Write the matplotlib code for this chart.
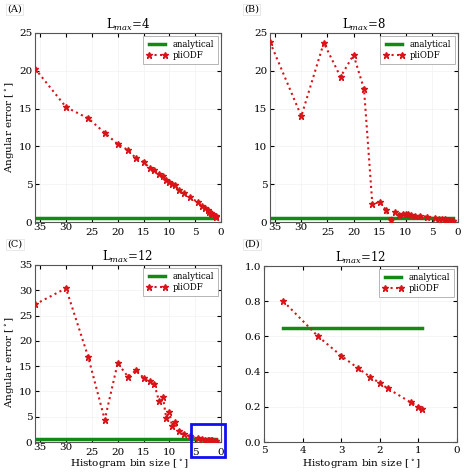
import matplotlib
matplotlib.use("Agg")
import matplotlib.pyplot as plt
from matplotlib.patches import Rectangle
import numpy as np

# ---------------- data ----------------
bin_size = [36, 30, 25.7, 22.5, 20, 18, 16.4, 15, 13.8, 12.9, 12, 11.25, 10.6, 10,
            9.5, 9, 8.2, 7.2, 6, 4.5, 3.6, 3.0, 2.57, 2.25, 2.0, 1.8, 1.2, 1.0, 0.9]

err_lmax4 = [20.3, 15.2, 13.7, 11.8, 10.3, 9.5, 8.4, 8.0, 7.1, 6.9, 6.3, 6.1, 5.5, 5.3,
             5.0, 4.9, 4.2, 3.85, 3.3, 2.6, 2.1, 1.8, 1.55, 1.35, 1.2, 1.1, 0.85, 0.75, 0.7]

err_lmax8 = [23.8, 14.0, 23.7, 19.2, 22.1, 17.6, 2.35, 2.65, 1.6, 0.2, 1.35, 0.9, 1.1, 1.0,
             1.1, 0.95, 0.85, 0.8, 0.7, 0.55, 0.45, 0.4, 0.35, 0.3, 0.27, 0.22, 0.18, 0.15, 0.13]

err_lmax12 = [27.2, 30.4, 16.8, 4.4, 15.6, 12.9, 14.2, 12.7, 12.0, 11.4, 8.1, 8.9, 4.75, 6.0,
              3.25, 3.9, 2.2, 1.65, 1.1, 0.80, 0.60, 0.49, 0.42, 0.37, 0.335, 0.305, 0.225, 0.20, 0.19]

analytical = {"A": 0.47, "B": 0.53, "C": 0.645, "D": 0.645}
lmax_vals = {"A": 4, "B": 8, "C": 12, "D": 12}
panel_labels = ["(A)", "(B)", "(C)", "(D)"]
legend_labels = ["analytical", "pliODF"]

xticks_main = [35, 30, 25, 20, 15, 10, 5, 0]
zoom_box_x = (5.9, -0.8)
zoom_box_y = (-3.0, 3.5)

# ---------------- style ----------------
plt.rcParams.update({
    "font.family": ["DejaVu Serif"],
    "mathtext.fontset": "dejavuserif",
    "xtick.direction": "in",
    "ytick.direction": "in",
    "xtick.top": True,
    "ytick.right": True,
    "xtick.major.size": 3,
    "ytick.major.size": 3,
    "xtick.labelsize": 7.5,
    "ytick.labelsize": 7.5,
    "axes.linewidth": 0.8,
    "axes.edgecolor": "#555555",
})

fig = plt.figure(figsize=(4.74, 4.73), dpi=100)
fig.patch.set_facecolor("white")

W, H = 474, 473
def box(l, r, t, b):
    return [l / W, 1 - b / H, (r - l) / W, (b - t) / H]

axA = fig.add_axes(box(35, 221, 33, 222))
axB = fig.add_axes(box(270, 458, 33, 222))
axC = fig.add_axes(box(35, 221, 265, 442))
axD = fig.add_axes(box(264, 457, 266, 442))

green = "#138a13"
red = "#d81418"

def draw(ax, x, y, ana):
    ax.plot([x[0], x[-1]], [ana, ana], color=green, lw=2.5, label=legend_labels[0], zorder=2)
    ax.plot(x, y, color=red, ls=":", lw=1.5, marker="*", ms=5, mec=red, mfc=red,
            label=legend_labels[1], zorder=3)
    ax.grid(True, color="#f2f2f2", lw=0.5)
    ax.set_axisbelow(True)
    leg = ax.legend(loc="upper right", fontsize=6.2, handlelength=2.4, borderpad=0.45,
                    labelspacing=0.3, borderaxespad=0.35, handletextpad=0.6,
                    fancybox=False, framealpha=1, numpoints=2)
    leg.get_frame().set_edgecolor("#aaaaaa")
    leg.get_frame().set_linewidth(0.6)

def stagger(ax):
    ax.set_xticks(xticks_main)
    for i, t in enumerate(ax.xaxis.get_major_ticks()):
        t.set_pad(0.8 if i < 2 else 4.0)

for ax, key, y in [(axA, "A", err_lmax4), (axB, "B", err_lmax8), (axC, "C", err_lmax12)]:
    draw(ax, bin_size, y, analytical[key])
    ax.set_xlim(36, 0)
    stagger(ax)
    ax.tick_params(axis="y", pad=2)
    ax.set_title(r"L$_{max}$=%d" % lmax_vals[key], fontsize=8.5, pad=3)

axA.set_ylim(0, 25)
axB.set_ylim(0, 25)
axC.set_ylim(0, 35)
axA.set_yticks([0, 5, 10, 15, 20, 25])
axB.set_yticks([0, 5, 10, 15, 20, 25])
axC.set_yticks([0, 5, 10, 15, 20, 25, 30, 35])

# panel D: zoom of Lmax=12 for small bin sizes
xs = np.array(bin_size)
mask = xs <= 5
draw(axD, list(xs[mask]), list(np.array(err_lmax12)[mask]), analytical["D"])
axD.set_xlim(5, 0)
axD.set_ylim(0, 1.0)
axD.set_xticks([5, 4, 3, 2, 1, 0])
axD.set_yticks([0.0, 0.2, 0.4, 0.6, 0.8, 1.0])
axD.tick_params(axis="y", pad=2)
axD.tick_params(axis="x", pad=3)
axD.set_title(r"L$_{max}$=12", fontsize=8.5, pad=3)

axA.set_ylabel(r"Angular error [$^\circ$]", fontsize=7.5)
axA.yaxis.set_label_coords(-0.1, 0.5)
axC.set_ylabel(r"Angular error [$^\circ$]", fontsize=7.5)
axC.yaxis.set_label_coords(-0.1, 0.45)
axC.set_xlabel(r"Histogram bin size [$^\circ$]", fontsize=7.5)
axC.xaxis.set_label_coords(0.505, -0.083)
axD.set_xlabel(r"Histogram bin size [$^\circ$]", fontsize=7.5)
axD.xaxis.set_label_coords(0.506, -0.083)

# blue highlight box in panel C
rect = Rectangle((zoom_box_x[0], zoom_box_y[0]), zoom_box_x[1] - zoom_box_x[0],
                 zoom_box_y[1] - zoom_box_y[0], fill=False, edgecolor="#1010ee",
                 lw=2.0, clip_on=False, zorder=5)
axC.add_patch(rect)

# panel labels
for lab, (px, py) in zip(panel_labels, [(7, 5), (244, 5), (7, 240), (244, 240)]):
    fig.text(px / W, 1 - py / H, lab, fontsize=7, ha="left", va="top",
             bbox=dict(boxstyle="square,pad=0.15", fc="white", ec="#e4e4e4", lw=0.6))

fig.savefig("out.png", dpi=100, facecolor="white")
